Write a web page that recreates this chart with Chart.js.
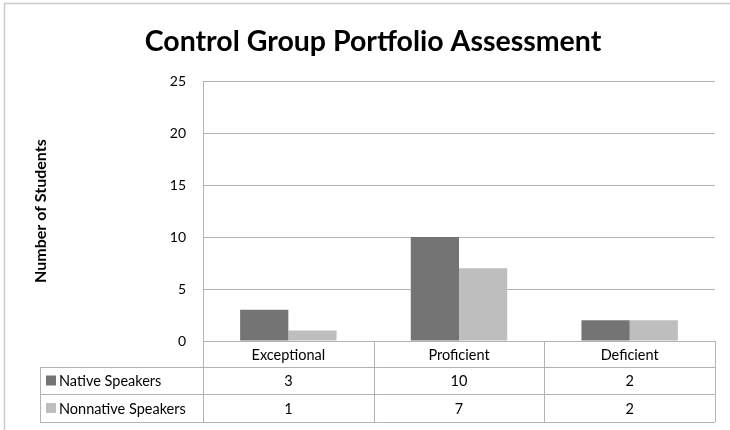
<!DOCTYPE html>
<html><head><meta charset="utf-8">
<script src="https://cdn.jsdelivr.net/npm/chart.js@4"></script>
<style>html,body{margin:0;padding:0;background:#fff}</style>
</head><body>
<canvas id="c" width="730" height="430"></canvas>
<script>
const chartTitle = 'Control Group Portfolio Assessment';
const yAxisTitle = 'Number of Students';
const categories = ['Exceptional', 'Proficient', 'Deficient'];
const seriesNames = ['Native Speakers', 'Nonnative Speakers'];
const nativeSpeakers = [3, 10, 2];
const nonnativeSpeakers = [1, 7, 2];
const yMin = 0, yMax = 25, yStep = 5;

const FONT = 'Lato, "Open Sans", sans-serif';
const COLORS = ['#747474', '#bebebe'];
const LINE = '#b3b3b3';

const tablePlugin = {
  id: 'dataTable',
  beforeDraw(chart) {
    const ctx = chart.ctx;
    ctx.save();
    ctx.strokeStyle = '#cccccc';
    ctx.lineWidth = 1.5;
    ctx.beginPath();
    ctx.moveTo(4.5, 430); ctx.lineTo(4.5, 3.5); ctx.lineTo(730, 3.5);
    ctx.stroke();
    ctx.restore();
  },
  afterDraw(chart) {
    const ctx = chart.ctx;
    const a = chart.chartArea;
    const n = chart.data.labels.length;
    const colW = (a.right - a.left) / n;
    const rows = [a.bottom, a.bottom + 26, a.bottom + 53, a.bottom + 81];
    const tableLeft = 40;
    ctx.save();
    ctx.strokeStyle = LINE;
    ctx.lineWidth = 1;
    ctx.beginPath();
    ctx.moveTo(a.left, Math.round(rows[0]) + 0.5); ctx.lineTo(a.right, Math.round(rows[0]) + 0.5);
    for (let r = 1; r < rows.length; r++) {
      const y = Math.round(rows[r]) + 0.5;
      ctx.moveTo(tableLeft, y); ctx.lineTo(a.right, y);
    }
    ctx.moveTo(tableLeft + 0.5, rows[1]); ctx.lineTo(tableLeft + 0.5, rows[3]);
    for (let i = 0; i <= n; i++) {
      const x = Math.round(a.left + i * colW) + 0.5;
      ctx.moveTo(x, rows[0]); ctx.lineTo(x, rows[3]);
    }
    ctx.stroke();

    ctx.fillStyle = '#000';
    ctx.font = '14.5px ' + FONT;
    ctx.textBaseline = 'middle';
    ctx.textAlign = 'center';
    const xs = chart.scales.x;
    chart.data.labels.forEach((lab, i) => {
      const cx = xs.getPixelForValue(i);
      ctx.fillText(lab, cx, (rows[0] + rows[1]) / 2 + 1);
      chart.data.datasets.forEach((ds, d) => {
        ctx.fillText(String(ds.data[i]), cx, (rows[d + 1] + rows[d + 2]) / 2 + 1);
      });
    });
    ctx.textAlign = 'left';
    chart.data.datasets.forEach((ds, d) => {
      const cy = (rows[d + 1] + rows[d + 2]) / 2;
      ctx.fillStyle = ds.backgroundColor;
      ctx.fillRect(tableLeft + 6, cy - 5, 10, 10);
      ctx.fillStyle = '#000';
      ctx.fillText(ds.label, tableLeft + 19, cy + 1);
    });
    ctx.restore();
  }
};

new Chart(document.getElementById('c'), {
  type: 'bar',
  data: {
    labels: categories,
    datasets: [
      { label: seriesNames[0], data: nativeSpeakers, backgroundColor: COLORS[0] },
      { label: seriesNames[1], data: nonnativeSpeakers, backgroundColor: COLORS[1] }
    ]
  },
  options: {
    responsive: false,
    animation: false,
    events: [],
    devicePixelRatio: 1,
    layout: { padding: { left: 31, right: 15, top: 0, bottom: 89 } },
    datasets: { bar: { categoryPercentage: 0.565, barPercentage: 1.0 } },
    plugins: {
      legend: { display: false },
      tooltip: { enabled: false },
      title: {
        display: true, text: chartTitle, color: '#000',
        font: { family: FONT, size: 28.5, weight: 'bold' },
        padding: { top: 25, bottom: 22 }
      }
    },
    scales: {
      x: { display: false },
      y: {
        min: yMin, max: yMax,
        ticks: { stepSize: yStep, color: '#000', font: { family: FONT, size: 14 }, padding: 17 },
        grid: { color: LINE, drawTicks: false },
        border: { color: LINE },
        title: { display: true, text: yAxisTitle, color: '#000', font: { family: FONT, size: 16, weight: 'bold' }, padding: 0 },
        afterFit(s) { s.width = 203 - 31; }
      }
    }
  },
  plugins: [tablePlugin]
});
</script>
</body></html>
